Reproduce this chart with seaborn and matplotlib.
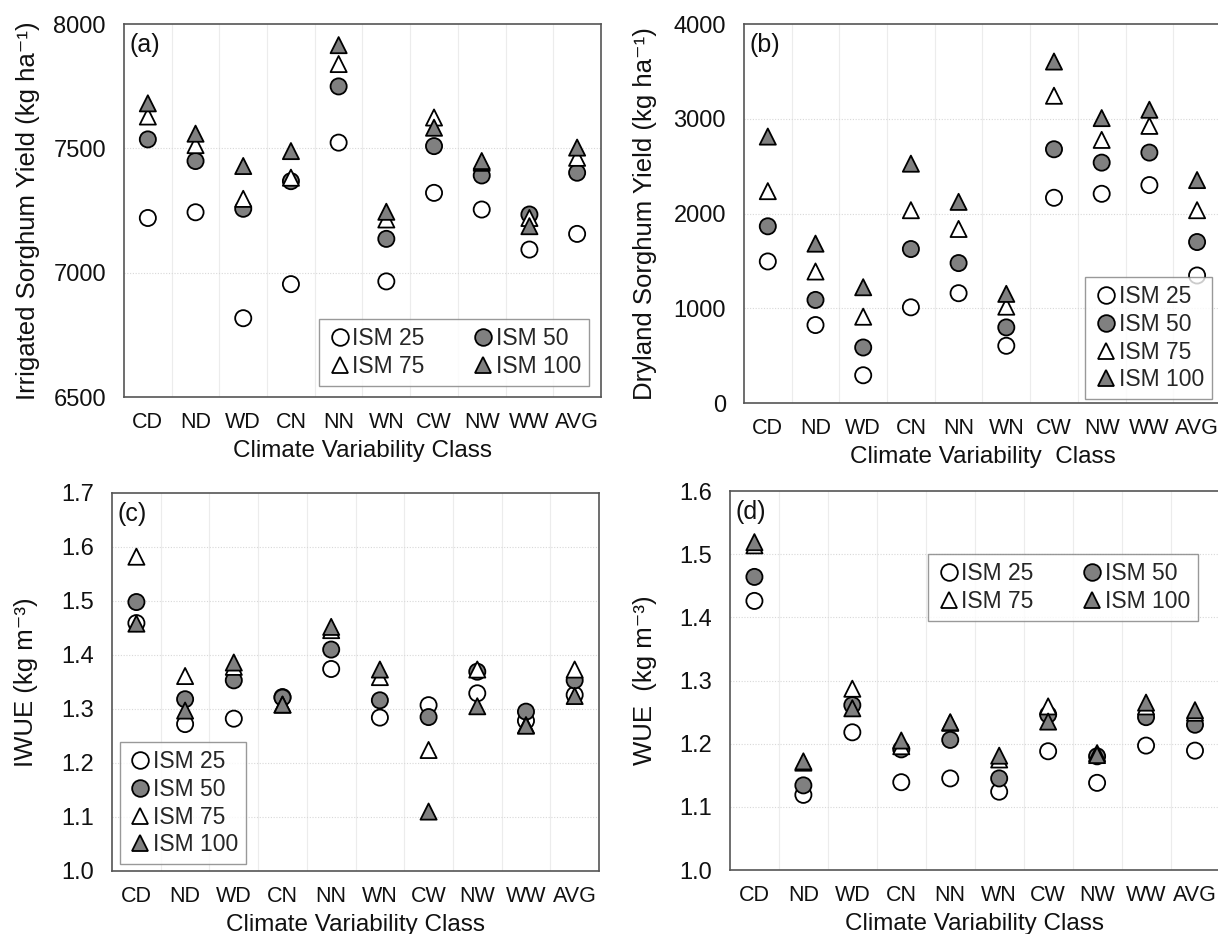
import numpy as np
import pandas as pd
import matplotlib
matplotlib.use("Agg")
import matplotlib.pyplot as plt
import seaborn as sns

classes = ["CD", "ND", "WD", "CN", "NN", "WN", "CW", "NW", "WW", "AVG"]
ism_levels = ["ISM 25", "ISM 50", "ISM 75", "ISM 100"]

# (a) Irrigated sorghum yield (kg/ha)
irr_25 = [7220, 7243, 6817, 6954, 7523, 6965, 7321, 7254, 7093, 7156]
irr_50 = [7536, 7449, 7257, 7368, 7749, 7136, 7509, 7391, 7234, 7402]
irr_75 = [7628, 7513, 7297, 7382, 7839, 7214, 7624, 7442, 7220, 7462]
irr_100 = [7681, 7559, 7429, 7489, 7915, 7245, 7583, 7449, 7187, 7503]

# (b) Dryland sorghum yield (kg/ha)
dry_25 = [1494, 823, 293, 1010, 1159, 604, 2166, 2208, 2300, 1346]
dry_50 = [1865, 1088, 586, 1625, 1477, 798, 2678, 2537, 2643, 1699]
dry_75 = [2236, 1388, 911, 2035, 1837, 1017, 3243, 2777, 2925, 2035]
dry_100 = [2812, 1682, 1222, 2526, 2123, 1152, 3604, 3007, 3095, 2353]

# (c) IWUE (kg/m3)
iwue_25 = [1.459, 1.272, 1.282, 1.322, 1.374, 1.284, 1.307, 1.329, 1.278, 1.326]
iwue_50 = [1.498, 1.318, 1.353, 1.321, 1.410, 1.316, 1.285, 1.369, 1.295, 1.353]
iwue_75 = [1.582, 1.361, 1.378, 1.308, 1.446, 1.359, 1.224, 1.373, 1.270, 1.373]
iwue_100 = [1.458, 1.297, 1.386, 1.308, 1.452, 1.373, 1.110, 1.305, 1.269, 1.324]

# (d) WUE (kg/m3)
wue_25 = [1.426, 1.119, 1.218, 1.139, 1.145, 1.124, 1.188, 1.138, 1.197, 1.189]
wue_50 = [1.464, 1.134, 1.261, 1.191, 1.206, 1.145, 1.246, 1.180, 1.242, 1.230]
wue_75 = [1.514, 1.170, 1.287, 1.196, 1.233, 1.175, 1.259, 1.185, 1.259, 1.249]
wue_100 = [1.519, 1.172, 1.256, 1.205, 1.234, 1.181, 1.235, 1.182, 1.265, 1.253]

panels = [
    dict(tag="(a)", series=[irr_25, irr_50, irr_75, irr_100],
         ylabel="Irrigated Sorghum Yield (kg ha\u207b\u00b9)",
         xlabel="Climate Variability Class",
         ylim=(6500, 8000), yticks=[6500, 7000, 7500, 8000], fmt="{:.0f}",
         rect=[0.1018, 0.5749, 0.3916, 0.3994], ylab_x=-0.176,
         leg=dict(ncol=2, loc="lower right", bbox_to_anchor=(0.975, 0.03))),
    dict(tag="(b)", series=[dry_25, dry_50, dry_75, dry_100],
         ylabel="Dryland Sorghum Yield (kg ha\u207b\u00b9)",
         xlabel="Climate Variability  Class",
         ylim=(0, 4000), yticks=[0, 1000, 2000, 3000, 4000], fmt="{:.0f}",
         rect=[0.6108, 0.5685, 0.3916, 0.4058], ylab_x=-0.182,
         leg=dict(ncol=1, loc="lower right", bbox_to_anchor=(0.981, 0.01))),
    dict(tag="(c)", series=[iwue_25, iwue_50, iwue_75, iwue_100],
         ylabel="IWUE (kg m\u207b\u00b3)",
         xlabel="Climate Variability Class",
         ylim=(1.0, 1.7), yticks=[1.0, 1.1, 1.2, 1.3, 1.4, 1.5, 1.6, 1.7], fmt="{:.1f}",
         rect=[0.0920, 0.0675, 0.3998, 0.4047], ylab_x=-0.152,
         leg=dict(ncol=1, loc="lower left", bbox_to_anchor=(0.016, 0.018))),
    dict(tag="(d)", series=[wue_25, wue_50, wue_75, wue_100],
         ylabel="WUE  (kg m\u207b\u00b3)",
         xlabel="Climate Variability Class",
         ylim=(1.0, 1.6), yticks=[1.0, 1.1, 1.2, 1.3, 1.4, 1.5, 1.6], fmt="{:.1f}",
         rect=[0.5993, 0.0685, 0.4019, 0.4058], ylab_x=-0.149,
         leg=dict(ncol=2, loc="upper right", bbox_to_anchor=(0.956, 0.834))),
]

sns.set_theme(style="white")
plt.rcParams["font.family"] = ["Liberation Sans", "DejaVu Sans"]

markers = {"ISM 25": "o", "ISM 50": "o", "ISM 75": "^", "ISM 100": "^"}
palette = {"ISM 25": "white", "ISM 50": "#808080", "ISM 75": "white", "ISM 100": "#808080"}

fig = plt.figure(figsize=(12.18, 9.34), dpi=100)

for p in panels:
    ax = fig.add_axes(p["rect"])
    rows = []
    for lev, vals in zip(ism_levels, p["series"]):
        for c, v in zip(classes, vals):
            rows.append({"cls": c, "val": v, "ism": lev})
    df = pd.DataFrame(rows)
    df["cls"] = pd.Categorical(df["cls"], categories=classes, ordered=True)
    sns.scatterplot(data=df, x="cls", y="val", hue="ism", style="ism",
                    hue_order=ism_levels, style_order=ism_levels,
                    markers=markers, palette=palette, s=135,
                    edgecolor="black", linewidth=1.3, ax=ax, zorder=3)
    ax.set_xlim(-0.5, len(classes) - 0.5)
    ax.set_ylim(*p["ylim"])
    ax.set_yticks(p["yticks"])
    ax.set_yticklabels([p["fmt"].format(t) for t in p["yticks"]])
    ax.set_xticks(range(len(classes)))
    ax.set_xticklabels(classes)
    # gridlines
    for b in np.arange(0.5, len(classes) - 0.5, 1.0):
        ax.axvline(b, color="#ececec", lw=0.8, zorder=0)
    for t in p["yticks"][1:-1]:
        ax.axhline(t, color="#d8d8d8", lw=0.8, ls=(0, (1, 1.5)), zorder=0)
    ax.tick_params(axis="y", length=0, pad=13, labelsize=17, colors="#111111")
    ax.tick_params(axis="x", length=0, pad=11, labelsize=15.5, colors="#111111")
    for sp in ax.spines.values():
        sp.set_color("#555555")
        sp.set_linewidth(1.2)
    ax.set_xlabel(p["xlabel"], fontsize=17.5, labelpad=5, color="#111111")
    ax.set_ylabel(p["ylabel"], fontsize=18.5, color="#111111")
    ax.yaxis.set_label_coords(p["ylab_x"], 0.5)
    ax.text(0.012, 0.975, p["tag"], transform=ax.transAxes, ha="left", va="top",
            fontsize=18, color="#111111")
    h, l = ax.get_legend_handles_labels()
    for hh in h:
        try:
            hh.set_markeredgecolor("black")
            hh.set_markersize(12)
            hh.set_markeredgewidth(1.3)
        except Exception:
            pass
    if p["leg"]["ncol"] == 2:
        order = [0, 2, 1, 3]
        h = [h[i] for i in order]
        l = [l[i] for i in order]
    leg = ax.legend(h, l, ncol=p["leg"]["ncol"], loc=p["leg"]["loc"],
                    bbox_to_anchor=p["leg"]["bbox_to_anchor"], borderaxespad=0,
                    frameon=True, fancybox=False, edgecolor="#808080",
                    fontsize=16.5, handletextpad=0.0, handlelength=1.1,
                    columnspacing=2.0, labelspacing=0.2, borderpad=0.35)
    leg.get_frame().set_linewidth(1.0)
    leg.set_zorder(5)

fig.savefig("out.png", dpi=100)
